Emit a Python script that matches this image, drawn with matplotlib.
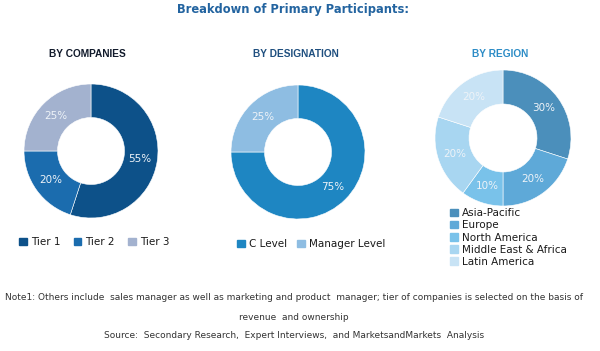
import matplotlib
matplotlib.use("Agg")
import matplotlib.pyplot as plt
from matplotlib.patches import Patch

# data
company_labels = ["Tier 1", "Tier 2", "Tier 3"]
company_share = [55, 20, 25]
company_colors = ["#0d5189", "#1b6cae", "#a3b2cf"]

designation_labels = ["C Level", "Manager Level"]
designation_share = [75, 25]
designation_colors = ["#1e86c2", "#8ebde2"]

region_labels = ["Asia-Pacific", "Europe", "North America", "Middle East & Africa", "Latin America"]
region_share = [30, 20, 10, 20, 20]
region_colors = ["#4b8fbb", "#5ea9d8", "#79c2ea", "#a8d6f1", "#c8e3f5"]

W, H = 600, 351
fig = plt.figure(figsize=(W / 100, H / 100), dpi=100)
fig.patch.set_facecolor("white")


def px(x, y):
    return x / W, 1 - y / H


def donut(cx, cy, r, values, colors):
    ax = fig.add_axes([(cx - r) / W, 1 - (cy + r) / H, 2 * r / W, 2 * r / H])
    wedges, _, autotexts = ax.pie(
        values, colors=colors, radius=1, startangle=90, counterclock=False,
        wedgeprops=dict(width=0.5, edgecolor="white", linewidth=0.4),
        autopct=lambda p: f"{p:.0f}%", pctdistance=0.74,
        textprops=dict(color="#eef3f8", fontsize=7.5))
    ax.set_xlim(-1, 1)
    ax.set_ylim(-1, 1)
    ax.set_aspect("equal")
    ax.axis("off")
    return wedges


fig.text(*px(293, 10), "Breakdown of Primary Participants:", ha="center", va="center",
         fontsize=8.3, fontweight="bold", color="#2364a0")

sub_font = dict(fontsize=7.3, fontweight="bold", va="center", ha="center",
                family="Liberation Sans")
fig.text(*px(87, 54), "BY COMPANIES", color="#111a2b", **sub_font)
fig.text(*px(296, 54), "BY DESIGNATION", color="#1f4f7f", **sub_font)
fig.text(*px(500, 54), "BY REGION", color="#2c8cc6", **sub_font)

w1 = donut(91, 151, 67, company_share, company_colors)
w2 = donut(298, 152, 67, designation_share, designation_colors)
w3 = donut(503, 138, 68, region_share, region_colors)

leg_font = dict(size=7.5)
fig.legend([Patch(color=c) for c in company_colors], company_labels,
           loc="center left", bbox_to_anchor=px(10, 242), ncol=3, frameon=False,
           handlelength=0.7, handleheight=0.7, handletextpad=0.4, columnspacing=1.3,
           prop=leg_font, labelcolor="#1a1a1a")
fig.legend([Patch(color=c) for c in designation_colors], designation_labels,
           loc="center left", bbox_to_anchor=px(228, 244), ncol=2, frameon=False,
           handlelength=0.7, handleheight=0.7, handletextpad=0.4, columnspacing=1.0,
           prop=leg_font, labelcolor="#1a1a1a")
fig.legend([Patch(color=c) for c in region_colors], region_labels,
           loc="upper left", bbox_to_anchor=px(441, 199), ncol=1, frameon=False,
           handlelength=0.7, handleheight=0.7, handletextpad=0.4, labelspacing=0.2,
           prop=leg_font, labelcolor="#1a1a1a")

note_font = dict(fontsize=6.5, ha="center", va="center", color="#333333")
fig.text(*px(294, 297), "Note1: Others include  sales manager as well as marketing and product  manager; tier of companies is selected on the basis of",
         **note_font)
fig.text(*px(294, 317), "revenue  and ownership", **note_font)
fig.text(*px(294, 336), "Source:  Secondary Research,  Expert Interviews,  and MarketsandMarkets  Analysis",
         **note_font)

fig.savefig("out.png", dpi=100, facecolor="white")
